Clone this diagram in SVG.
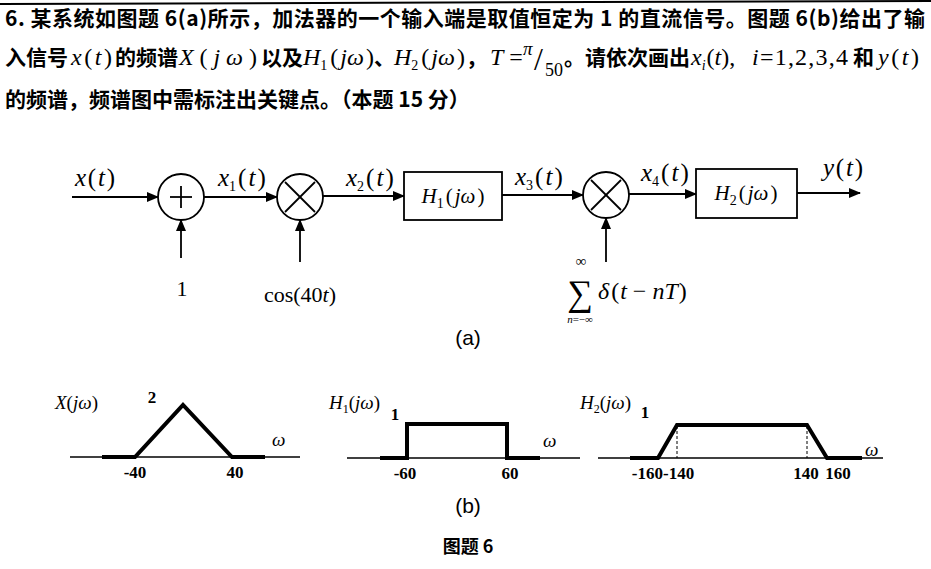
<svg xmlns="http://www.w3.org/2000/svg" width="931" height="569" viewBox="0 0 931 569">
<defs>
<marker id="ah" markerWidth="12" markerHeight="10" refX="11" refY="5" orient="auto" markerUnits="userSpaceOnUse">
<path d="M0,0 L12,5 L0,10 Z" fill="#000"/>
</marker>
<style>
.cn{font-family:"Noto Sans CJK SC",sans-serif;font-size:21px;font-weight:bold;fill:#000}
.m{font-family:"Liberation Serif",serif;font-style:italic;font-size:24px;fill:#000}
.u{font-style:normal}
.sub{font-size:14px}
.lb{font-family:"Liberation Serif",serif;font-style:italic;font-size:25px;fill:#000}
.rm{font-family:"Liberation Serif",serif;font-size:22px;fill:#000}
.gl{font-family:"Liberation Serif",serif;font-weight:bold;font-size:17px;fill:#000}
.gi{font-family:"Liberation Serif",serif;font-style:italic;font-size:19px;fill:#000}
.cap{font-family:"Liberation Sans",sans-serif;font-size:21px;fill:#000}
.ln{stroke:#000;stroke-width:1.8;fill:none}
.bx{stroke:#000;stroke-width:1.8;fill:#fff}
.ax{stroke:#000;stroke-width:1.6;fill:none}
.tk{stroke:#000;stroke-width:4;fill:none;stroke-linejoin:miter}
.ds{stroke:#000;stroke-width:1;stroke-dasharray:3,2;fill:none}
</style>
</defs>
<rect width="931" height="569" fill="#fff"/>
<line x1="0" y1="4" x2="931" y2="1" stroke="#000" stroke-width="2"/>

<g id="question">
<text class="cn" x="5" y="26" textLength="920" lengthAdjust="spacing">6. 某系统如图题 6(a)所示，加法器的一个输入端是取值恒定为 1 的直流信号。图题 6(b)给出了输</text>
<text class="cn" x="5" y="65">入信号</text>
<text class="m" x="71" y="65" textLength="41" lengthAdjust="spacing">x<tspan class="u">(</tspan>t<tspan class="u">)</tspan></text>
<text class="cn" x="115" y="65">的频谱</text>
<text class="m" x="179" y="65" textLength="78" lengthAdjust="spacing">X<tspan class="u">(</tspan>jω<tspan class="u">)</tspan></text>
<text class="cn" x="261" y="65">以及</text>
<text class="m" x="303" y="65">H<tspan class="u sub" dy="5">1</tspan><tspan class="u" dx="3" dy="-5">(</tspan><tspan dx="2">jω</tspan><tspan class="u" dx="2">)</tspan></text>
<text class="cn" x="374" y="65">、</text>
<text class="m" x="394" y="65">H<tspan class="u sub" dy="5">2</tspan><tspan class="u" dx="3" dy="-5">(</tspan><tspan dx="2">jω</tspan><tspan class="u" dx="2">)</tspan></text>
<text class="cn" x="466" y="65">，</text>
<text class="m" x="490" y="65">T<tspan class="u"> = </tspan></text>
<text class="m" x="523" y="55" style="font-size:19px">π</text>
<text class="rm" x="534" y="70" style="font-size:32px">/</text>
<text class="rm" x="545" y="76" style="font-size:18px">50</text>
<text class="cn" x="564" y="65">。请依次画出</text>
<text class="m" x="691" y="65">x<tspan class="sub" dy="5">i</tspan><tspan class="u" dx="1" dy="-5">(</tspan>t<tspan class="u">),</tspan></text>
<text class="m" x="752" y="65" textLength="96" lengthAdjust="spacing">i<tspan class="u">=1,2,3,4</tspan></text>
<text class="cn" x="853" y="65">和</text>
<text class="m" x="878" y="65" textLength="41" lengthAdjust="spacing">y<tspan class="u">(</tspan>t<tspan class="u">)</tspan></text>
<text class="cn" x="5" y="107">的频谱，频谱图中需标注出关键点。（本题 15 分）</text>
</g>

<g id="connectors">
<line class="ln" x1="72" y1="197" x2="158" y2="197" marker-end="url(#ah)"/>
<line class="ln" x1="204" y1="197" x2="277" y2="197" marker-end="url(#ah)"/>
<line class="ln" x1="323" y1="196" x2="404" y2="196" marker-end="url(#ah)"/>
<line class="ln" x1="502" y1="195" x2="583" y2="195" marker-end="url(#ah)"/>
<line class="ln" x1="629" y1="194" x2="696" y2="194" marker-end="url(#ah)"/>
<line class="ln" x1="797" y1="193" x2="860" y2="193" marker-end="url(#ah)"/>
<line class="ln" x1="181" y1="258" x2="181" y2="220" marker-end="url(#ah)"/>
<line class="ln" x1="300" y1="262" x2="300" y2="220" marker-end="url(#ah)"/>
<line class="ln" x1="606" y1="262" x2="606" y2="218" marker-end="url(#ah)"/>
<text class="lb" x="75" y="186" textLength="40" lengthAdjust="spacing">x<tspan class="u">(</tspan>t<tspan class="u">)</tspan></text>
<text class="lb" x="218" y="186">x<tspan class="u sub" dy="5">1</tspan><tspan class="u" dx="2" dy="-5">(</tspan><tspan dx="2">t</tspan><tspan class="u" dx="2">)</tspan></text>
<text class="lb" x="346" y="186">x<tspan class="u sub" dy="5">2</tspan><tspan class="u" dx="2" dy="-5">(</tspan><tspan dx="2">t</tspan><tspan class="u" dx="2">)</tspan></text>
<text class="lb" x="515" y="185">x<tspan class="u sub" dy="5">3</tspan><tspan class="u" dx="2" dy="-5">(</tspan><tspan dx="2">t</tspan><tspan class="u" dx="2">)</tspan></text>
<text class="lb" x="641" y="181">x<tspan class="u sub" dy="5">4</tspan><tspan class="u" dx="2" dy="-5">(</tspan><tspan dx="2">t</tspan><tspan class="u" dx="2">)</tspan></text>
<text class="lb" x="823" y="176" textLength="40" lengthAdjust="spacing">y<tspan class="u">(</tspan>t<tspan class="u">)</tspan></text>
</g>

<g id="adder">
<circle class="bx" cx="181" cy="197" r="23"/>
<line class="ln" x1="170" y1="197" x2="192" y2="197"/>
<line class="ln" x1="181" y1="186" x2="181" y2="208"/>
</g>
<g id="mult1">
<circle class="bx" cx="300" cy="197" r="23"/>
<line class="ln" x1="285" y1="182" x2="315" y2="212"/>
<line class="ln" x1="315" y1="182" x2="285" y2="212"/>
</g>
<g id="H1">
<rect class="bx" x="404" y="172" width="98" height="48"/>
<text class="m" x="453" y="203" text-anchor="middle" style="font-size:21px">H<tspan class="u sub" dy="5">1</tspan><tspan class="u" dx="2" dy="-5">(</tspan><tspan dx="2">jω</tspan><tspan class="u" dx="2">)</tspan></text>
</g>
<g id="mult2">
<circle class="bx" cx="606" cy="195" r="23"/>
<line class="ln" x1="591" y1="180" x2="621" y2="210"/>
<line class="ln" x1="621" y1="180" x2="591" y2="210"/>
</g>
<g id="H2">
<rect class="bx" x="696" y="169" width="101" height="49"/>
<text class="m" x="746" y="200" text-anchor="middle" style="font-size:21px">H<tspan class="u sub" dy="5">2</tspan><tspan class="u" dx="2" dy="-5">(</tspan><tspan dx="2">jω</tspan><tspan class="u" dx="2">)</tspan></text>
</g>
<g id="in-one">
<text class="rm" x="182" y="296" text-anchor="middle">1</text>
</g>
<g id="in-cos">
<text class="rm" x="300" y="302" text-anchor="middle">cos(40<tspan style="font-style:italic">t</tspan>)</text>
</g>
<g id="in-comb">
<text class="rm" x="580" y="305" text-anchor="middle" style="font-size:36px">∑</text>
<text class="rm" x="581" y="266" text-anchor="middle" style="font-size:15px">∞</text>
<text class="m" x="580" y="323" text-anchor="middle" style="font-size:11px">n<tspan class="u">=−∞</tspan></text>
<text class="m" x="598" y="299">δ<tspan class="u" dx="2">(</tspan><tspan dx="1">t</tspan><tspan class="u"> − </tspan>nT<tspan class="u" dx="1">)</tspan></text>
</g>
<text class="cap" x="468" y="345" text-anchor="middle">(a)</text>

<g id="X-spectrum">
<line class="ax" x1="70" y1="457" x2="300" y2="457"/>
<polyline class="tk" points="102,457 135,457 183,405 232,457 265,457"/>
<text class="gi" x="55" y="409">X<tspan class="u">(</tspan>jω<tspan class="u">)</tspan></text>
<text class="gl" x="152" y="403" text-anchor="middle">2</text>
<text class="gi" x="272" y="446">ω</text>
<text class="gl" x="135" y="478" text-anchor="middle">-40</text>
<text class="gl" x="235" y="478" text-anchor="middle">40</text>
</g>
<g id="H1-spectrum">
<line class="ax" x1="347" y1="458" x2="580" y2="458"/>
<polyline class="tk" points="380,458 407,458 407,424 507,424 507,458 540,458"/>
<text class="gi" x="329" y="409">H<tspan class="u" dy="4" style="font-size:12px">1</tspan><tspan class="u" dy="-4">(</tspan>jω<tspan class="u">)</tspan></text>
<text class="gl" x="395" y="420" text-anchor="middle">1</text>
<text class="gi" x="543" y="447">ω</text>
<text class="gl" x="405" y="479" text-anchor="middle">-60</text>
<text class="gl" x="510" y="479" text-anchor="middle">60</text>
</g>
<g id="H2-spectrum">
<line class="ax" x1="598" y1="458" x2="883" y2="458"/>
<line class="ds" x1="677" y1="426" x2="677" y2="458"/>
<line class="ds" x1="807" y1="426" x2="807" y2="458"/>
<polyline class="tk" points="630,458 658,458 677,425 807,425 827,458 862,458"/>
<text class="gi" x="580" y="409">H<tspan class="u" dy="4" style="font-size:12px">2</tspan><tspan class="u" dy="-4">(</tspan>jω<tspan class="u">)</tspan></text>
<text class="gl" x="645" y="418" text-anchor="middle">1</text>
<text class="gi" x="865" y="456">ω</text>
<text class="gl" x="663" y="479" text-anchor="middle">-160-140</text>
<text class="gl" x="806" y="479" text-anchor="middle">140</text>
<text class="gl" x="838" y="479" text-anchor="middle">160</text>
</g>
<text class="cap" x="468" y="513" text-anchor="middle">(b)</text>
<text class="cn" x="468" y="553" text-anchor="middle" style="font-size:18px">图题 6</text>
</svg>
